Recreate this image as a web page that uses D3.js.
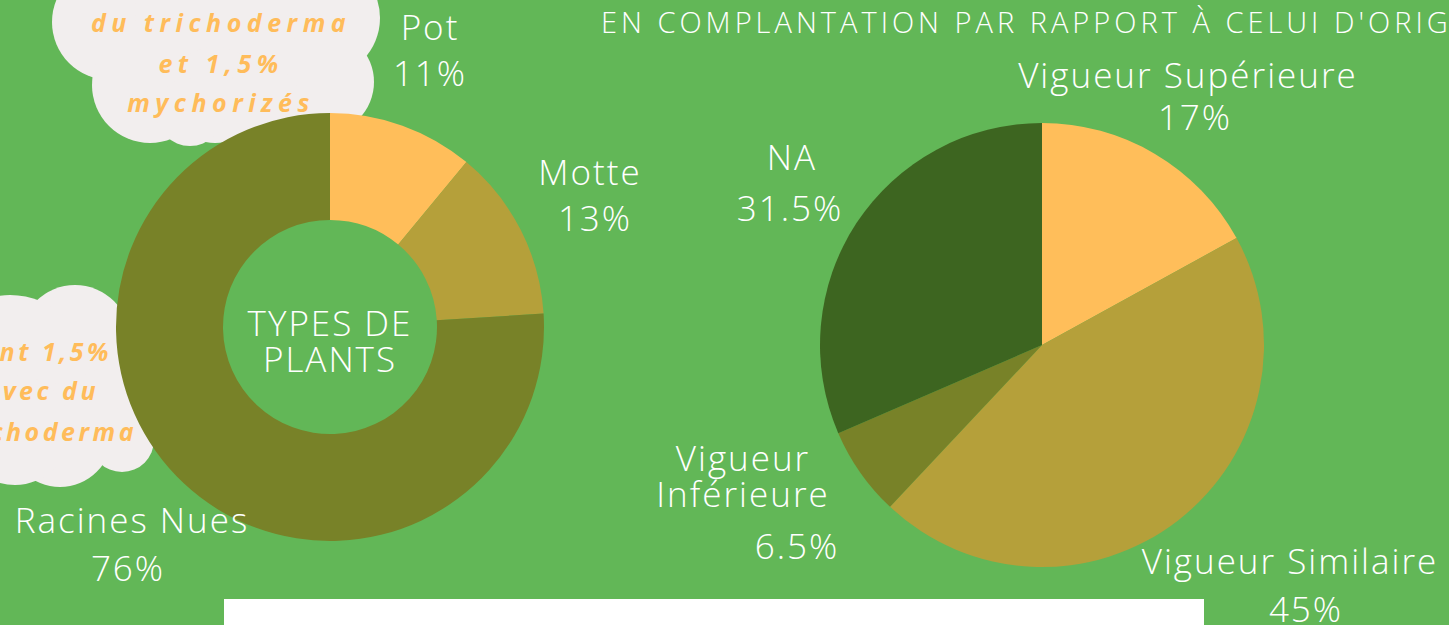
<!DOCTYPE html>
<html>
<head>
<meta charset="utf-8">
<script src="https://cdn.jsdelivr.net/npm/d3@7"></script>
<style>
  html, body { margin: 0; padding: 0; overflow: hidden; background: #62b757; }
  svg { display: block; }
</style>
</head>
<body>
<svg id="chart" width="1449" height="625"></svg>
<script>
// donut: types de plants
const plantTypes = ["Pot", "Motte", "Racines Nues"];
const plantValues = [11, 13, 76];
// pie: vigueur en complantation
const vigueurCats = ["Vigueur Supérieure", "Vigueur Similaire", "Vigueur Inférieure", "NA"];
const vigueurValues = [17, 45, 6.5, 31.5];
const vigueurLabels = ["17%", "45%", "6.5%", "31.5%"];

const svg = d3.select("#chart");
const width = +svg.attr("width");
const height = +svg.attr("height");

const bg = "#62b757";
const cloudFill = "#f2eeee";
const cloudText = "#ffbc5a";
const font = "'Open Sans', 'Noto Sans', sans-serif";

svg.append("rect").attr("width", width).attr("height", height).attr("fill", bg);

// clouds built from overlapping circles
const clouds = [
  [[110, 22, 58], [215, 10, 80], [320, 18, 60], [150, 85, 58], [322, 82, 52], [215, 95, 48], [262, 105, 40], [190, 112, 34]],
  [[75, 340, 55], [10, 375, 80], [122, 355, 36], [112, 415, 48], [60, 435, 52], [122, 440, 32], [15, 430, 55]]
];
clouds.forEach(c => {
  svg.append("g")
    .selectAll("circle")
    .data(c)
    .join("circle")
    .attr("cx", d => d[0])
    .attr("cy", d => d[1])
    .attr("r", d => d[2])
    .attr("fill", cloudFill);
});

function cloudLines(lines, anchor, spacing) {
  svg.append("g")
    .selectAll("text")
    .data(lines)
    .join("text")
    .attr("x", d => d[2])
    .attr("y", d => d[1])
    .attr("text-anchor", anchor)
    .attr("fill", cloudText)
    .style("font-family", font)
    .style("font-size", "25px")
    .style("font-weight", 700)
    .style("font-style", "italic")
    .style("letter-spacing", spacing)
    .text(d => d[0]);
}
cloudLines([["du trichoderma", 32, 221], ["et 1,5%", 73, 221], ["mychorizés", 112, 221]], "middle", "5.5px");
cloudLines([["dont 1,5%", 361, 112], ["avec du", 400, 99], ["trichoderma", 441, 137]], "end", "3.5px");

// white strip at bottom
svg.append("rect")
  .attr("x", 224).attr("y", 599)
  .attr("width", 980).attr("height", 30)
  .attr("fill", "#ffffff");

// --- donut ---
const donutColor = d3.scaleOrdinal().domain(plantTypes).range(["#ffbe5a", "#b5a03a", "#788228"]);
const pie = d3.pie().sort(null).value(d => d.value);
const donutData = pie(plantTypes.map((t, i) => ({ name: t, value: plantValues[i] })));
const donutArc = d3.arc().innerRadius(107).outerRadius(214);

const donut = svg.append("g").attr("transform", "translate(330,327)");
donut.selectAll("path")
  .data(donutData)
  .join("path")
  .attr("d", donutArc)
  .attr("fill", d => donutColor(d.data.name));

// --- pie ---
const pieColor = d3.scaleOrdinal().domain(vigueurCats).range(["#ffbe5a", "#b5a03a", "#788228", "#3d6520"]);
const pieData = pie(vigueurCats.map((t, i) => ({ name: t, value: vigueurValues[i] })));
const pieArc = d3.arc().innerRadius(0).outerRadius(222);

const pieG = svg.append("g").attr("transform", "translate(1042,345)");
pieG.selectAll("path")
  .data(pieData)
  .join("path")
  .attr("d", pieArc)
  .attr("fill", d => pieColor(d.data.name));

// --- labels ---
const labels = [
  { t: "Pot", x: 430, y: 40 },
  { t: plantValues[0] + "%", x: 430, y: 86 },
  { t: "Motte", x: 590, y: 185 },
  { t: plantValues[1] + "%", x: 595, y: 231 },
  { t: "Racines Nues", x: 132, y: 533 },
  { t: plantValues[2] + "%", x: 128, y: 581 },
  { t: "TYPES DE", x: 330, y: 336 },
  { t: "PLANTS", x: 330, y: 372 },
  { t: vigueurCats[0], x: 1188, y: 88 },
  { t: vigueurLabels[0], x: 1195, y: 130 },
  { t: vigueurCats[3], x: 792, y: 170 },
  { t: vigueurLabels[3], x: 790, y: 221 },
  { t: "Vigueur", x: 743, y: 471 },
  { t: "Inférieure", x: 743, y: 507 },
  { t: vigueurLabels[2], x: 797, y: 559 },
  { t: vigueurCats[1], x: 1290, y: 574 },
  { t: vigueurLabels[1], x: 1306, y: 622 }
];
svg.append("g")
  .selectAll("text")
  .data(labels)
  .join("text")
  .attr("x", d => d.x)
  .attr("y", d => d.y)
  .attr("text-anchor", "middle")
  .attr("fill", "#ffffff")
  .style("font-family", font)
  .style("font-size", "35px")
  .style("font-weight", 300)
  .style("letter-spacing", "2px")
  .text(d => d.t);

// title (cut at right edge)
svg.append("text")
  .attr("x", 601)
  .attr("y", 33)
  .attr("fill", "#ffffff")
  .style("font-family", font)
  .style("font-size", "29px")
  .style("font-weight", 300)
  .style("letter-spacing", "4px")
  .text("EN COMPLANTATION PAR RAPPORT À CELUI D'ORIGINE");
</script>
</body>
</html>
